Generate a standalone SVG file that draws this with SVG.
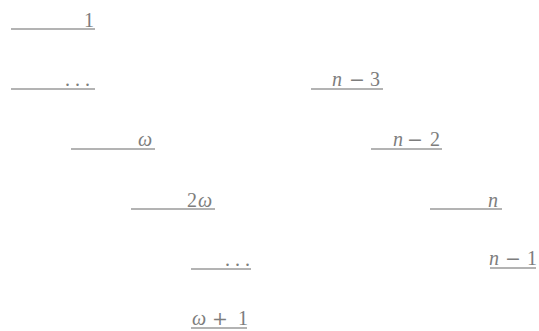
<svg xmlns="http://www.w3.org/2000/svg" width="539" height="331" viewBox="0 0 539 331">
<style>
.ln{stroke:#9a9a9a;stroke-width:1.3;fill:none}
.t{font-family:"Liberation Serif","DejaVu Serif",serif;font-size:20px;fill:#7d7d7d}
.i{font-style:italic}
.op{font-family:"DejaVu Serif",serif;font-size:19px}
.d{letter-spacing:5px}
</style>
<rect width="539" height="331" fill="#fff"/>
<g id="n1"><line class="ln" x1="11" y1="29" x2="95" y2="29"/><text class="t" x="84" y="27">1</text></g>
<g id="dots1"><line class="ln" x1="11" y1="89" x2="95" y2="89"/><text class="t d" x="65" y="86">...</text></g>
<g id="nm3"><line class="ln" x1="311" y1="89" x2="383" y2="89"/><text class="t" y="86"><tspan class="i" x="332">n</tspan><tspan class="op" x="349">−</tspan><tspan x="370">3</tspan></text></g>
<g id="omega"><line class="ln" x1="71" y1="149" x2="155" y2="149"/><text class="t i" x="138" y="146">ω</text></g>
<g id="nm2"><line class="ln" x1="371" y1="149" x2="442" y2="149"/><text class="t" y="146"><tspan class="i" x="393">n</tspan><tspan class="op" x="407">−</tspan><tspan x="430">2</tspan></text></g>
<g id="two-omega"><line class="ln" x1="131" y1="209" x2="215" y2="209"/><text class="t" y="207"><tspan x="187">2</tspan><tspan class="i" x="198">ω</tspan></text></g>
<g id="n"><line class="ln" x1="430" y1="209" x2="502" y2="209"/><text class="t i" x="488" y="207">n</text></g>
<g id="dots2"><line class="ln" x1="191" y1="269" x2="251" y2="269"/><text class="t d" x="225" y="266">...</text></g>
<g id="nm1"><line class="ln" x1="490" y1="268" x2="536" y2="268"/><text class="t" y="265"><tspan class="i" x="489">n</tspan><tspan class="op" x="505">−</tspan><tspan x="527">1</tspan></text></g>
<g id="omega-plus-1"><line class="ln" x1="191" y1="328" x2="247" y2="328"/><text class="t" y="325"><tspan class="i" x="192">ω</tspan><tspan class="op" x="212">+</tspan><tspan x="238">1</tspan></text></g>
<g id="connectors"></g>
</svg>
